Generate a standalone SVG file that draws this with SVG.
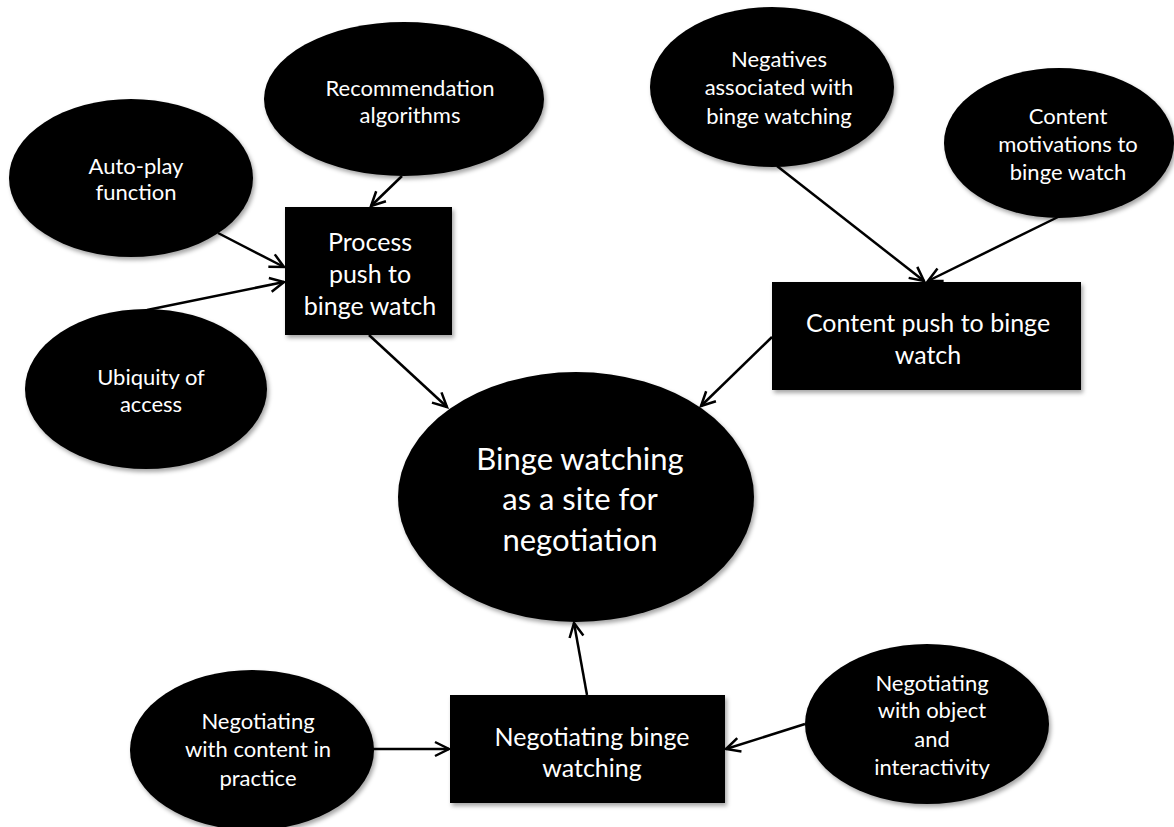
<svg xmlns="http://www.w3.org/2000/svg" width="1174" height="827" viewBox="0 0 1174 827">
<defs>
<filter id="sh" x="-10%" y="-10%" width="125%" height="125%">
<feDropShadow dx="2" dy="3" stdDeviation="2" flood-color="#000" flood-opacity="0.35"/>
</filter>
<marker id="ah" markerUnits="userSpaceOnUse" markerWidth="20" markerHeight="20" viewBox="-16 -10 20 20" refX="0" refY="0" orient="auto">
<path d="M-14,-7 L0,0 L-14,7" fill="none" stroke="#000" stroke-width="2.5"/>
</marker>
</defs>
<style>
.n{fill:#000;filter:url(#sh)}
.t{fill:#fff;font-family:Lato,"Liberation Sans",sans-serif;text-anchor:middle}
.s{font-size:22px}
.b{font-size:25px}
.c{font-size:31px}
.e{stroke:#000;stroke-width:2.5;fill:none;marker-end:url(#ah)}
</style>
<rect width="1174" height="827" fill="#fff"/>
<g id="connectors">
<line class="e" x1="402" y1="176" x2="371" y2="206"/>
<line class="e" x1="218" y1="233" x2="284" y2="267"/>
<line class="e" x1="147" y1="310" x2="284" y2="282"/>
<line class="e" x1="369" y1="335" x2="447" y2="407"/>
<line class="e" x1="777" y1="166" x2="924" y2="281"/>
<line class="e" x1="1058" y1="217" x2="928" y2="281"/>
<line class="e" x1="772" y1="337" x2="701" y2="406"/>
<line class="e" x1="373" y1="749" x2="449" y2="749"/>
<line class="e" x1="805" y1="724" x2="726" y2="749"/>
<line class="e" x1="587" y1="695" x2="574" y2="623"/>
</g>
<g id="recommendation">
<ellipse class="n" cx="404" cy="99" rx="140" ry="77"/>
<text class="t s" x="410" y="96">Recommendation</text>
<text class="t s" x="410" y="123">algorithms</text>
</g>
<g id="autoplay">
<ellipse class="n" cx="131" cy="178" rx="122" ry="79"/>
<text class="t s" x="136" y="174">Auto-play</text>
<text class="t s" x="136" y="200">function</text>
</g>
<g id="ubiquity">
<ellipse class="n" cx="146" cy="389" rx="121" ry="80"/>
<text class="t s" x="151" y="385">Ubiquity of</text>
<text class="t s" x="151" y="412">access</text>
</g>
<g id="process">
<rect class="n" x="285" y="207" width="167" height="128"/>
<text class="t b" x="370" y="251">Process</text>
<text class="t b" x="370" y="283">push to</text>
<text class="t b" x="370" y="315">binge watch</text>
</g>
<g id="negatives">
<ellipse class="n" cx="772" cy="87" rx="122" ry="80"/>
<text class="t s" x="779" y="67">Negatives</text>
<text class="t s" x="779" y="95">associated with</text>
<text class="t s" x="779" y="124">binge watching</text>
</g>
<g id="motivations">
<ellipse class="n" cx="1059" cy="143" rx="115" ry="75"/>
<text class="t s" x="1068" y="124">Content</text>
<text class="t s" x="1068" y="152">motivations to</text>
<text class="t s" x="1068" y="180">binge watch</text>
</g>
<g id="contentpush">
<rect class="n" x="772" y="282" width="309" height="108"/>
<text class="t b" x="928" y="332">Content push to binge</text>
<text class="t b" x="928" y="364">watch</text>
</g>
<g id="central">
<ellipse class="n" cx="576" cy="497" rx="178" ry="125"/>
<text class="t c" x="580" y="470">Binge watching</text>
<text class="t c" x="580" y="510">as a site for</text>
<text class="t c" x="580" y="551">negotiation</text>
</g>
<g id="negotiatingcontent">
<ellipse class="n" cx="252" cy="750" rx="122" ry="80"/>
<text class="t s" x="258" y="729">Negotiating</text>
<text class="t s" x="258" y="757">with content in</text>
<text class="t s" x="258" y="786">practice</text>
</g>
<g id="negotiatingbinge">
<rect class="n" x="450" y="695" width="275" height="108"/>
<text class="t b" x="592" y="746">Negotiating binge</text>
<text class="t b" x="592" y="777">watching</text>
</g>
<g id="negotiatingobject">
<ellipse class="n" cx="927" cy="724" rx="122" ry="80"/>
<text class="t s" x="932" y="691">Negotiating</text>
<text class="t s" x="932" y="718">with object</text>
<text class="t s" x="932" y="747">and</text>
<text class="t s" x="932" y="775">interactivity</text>
</g>
</svg>
